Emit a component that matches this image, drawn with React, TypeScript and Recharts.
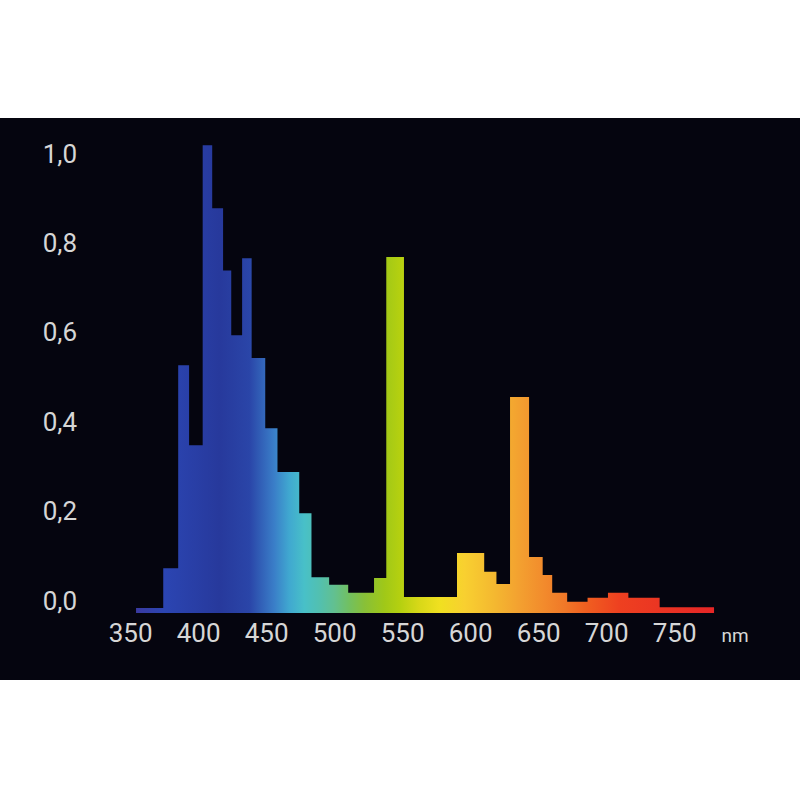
import { AreaChart, Area, XAxis, YAxis, Label } from "recharts";

// bin start wavelengths (nm); the last entry closes the final bin
const wavelengths = [
  354, 374, 385, 393, 403, 410, 418, 424, 432, 439, 449, 458, 474, 483, 496,
  510, 529, 538, 551, 590, 610, 619, 629, 643, 653, 660, 671, 686, 701, 716,
  739, 779,
];

// relative intensity of each bin
const intensity = [
  0.011, 0.1, 0.554, 0.375, 1.046, 0.905, 0.766, 0.621, 0.793, 0.57, 0.413,
  0.315, 0.223, 0.08, 0.063, 0.045, 0.078, 0.796, 0.036, 0.134, 0.092, 0.065,
  0.483, 0.125, 0.085, 0.045, 0.025, 0.034, 0.045, 0.034, 0.013, 0.013,
];

const xTicks = [350, 400, 450, 500, 550, 600, 650, 700, 750];
const yTicks = [0, 0.2, 0.4, 0.6, 0.8, 1.0];

const spectrum: [number, string][] = [
  [0, "#3a3aa0"],
  [0.049, "#2b45b2"],
  [0.144, "#27399c"],
  [0.196, "#2a45a8"],
  [0.239, "#3a7ec8"],
  [0.265, "#40a8d0"],
  [0.291, "#48c0c8"],
  [0.317, "#52c0b0"],
  [0.343, "#62c090"],
  [0.369, "#72c060"],
  [0.395, "#88c038"],
  [0.43, "#a0c818"],
  [0.456, "#b4d010"],
  [0.49, "#d8d818"],
  [0.525, "#f0e020"],
  [0.568, "#f8d030"],
  [0.62, "#f4b830"],
  [0.664, "#f3a030"],
  [0.707, "#f28a2c"],
  [0.742, "#f07828"],
  [0.776, "#f06020"],
  [0.837, "#ee4020"],
  [1, "#e62626"],
];

const data = wavelengths.map((nm, i) => ({ nm, value: intensity[i] }));

const labelColor = "#d6d6d6";
const font = "Roboto, 'Noto Sans', sans-serif";

function XTick({ x, y, payload }: any) {
  return (
    <text
      x={x}
      y={y}
      dy="0.71em"
      textAnchor="middle"
      fill={labelColor}
      fontSize={26}
      fontFamily={font}
    >
      {payload.value}
    </text>
  );
}

function YTick({ x, y, payload }: any) {
  return (
    <text
      x={x}
      y={y - 12.5}
      dy="0.36em"
      textAnchor="end"
      fill={labelColor}
      fontSize={26}
      fontFamily={font}
    >
      {payload.value.toFixed(1).replace(".", ",")}
    </text>
  );
}

export default function App() {
  return (
    <div
      style={{
        position: "absolute",
        left: 0,
        top: 0,
        width: 800,
        height: 800,
        background: "#ffffff",
      }}
    >
      <div
        style={{
          position: "absolute",
          left: 0,
          top: 118,
          width: 800,
          height: 562,
          background: "#05050f",
        }}
      >
        <AreaChart
          width={800}
          height={562}
          data={data}
          margin={{ top: 3, right: 71, bottom: 0, left: 0 }}
        >
          <defs>
            <linearGradient id="spec" x1="0" y1="0" x2="1" y2="0">
              {spectrum.map(([o, c]) => (
                <stop key={o} offset={o} stopColor={c} />
              ))}
            </linearGradient>
          </defs>
          <XAxis
            dataKey="nm"
            type="number"
            domain={[340, 790]}
            ticks={xTicks}
            axisLine={false}
            tickLine={false}
            tickSize={0}
            tickMargin={11}
            height={67}
            tick={<XTick />}
            interval={0}
          >
            <Label
              content={({ viewBox }: any) => (
                <text
                  x={viewBox.x + viewBox.width + 6}
                  y={viewBox.y + 22}
                  dy="0.36em"
                  textAnchor="middle"
                  fill={labelColor}
                  fontSize={19}
                  fontFamily={font}
                >
                  nm
                </text>
              )}
            />
          </XAxis>
          <YAxis
            type="number"
            domain={[0, 1.1]}
            ticks={yTicks}
            axisLine={false}
            tickLine={false}
            tickSize={0}
            tickMargin={40}
            width={117}
            tick={<YTick />}
            interval={0}
          />
          <Area
            type="stepAfter"
            dataKey="value"
            stroke="none"
            fill="url(#spec)"
            fillOpacity={1}
            isAnimationActive={false}
          />
        </AreaChart>
      </div>
    </div>
  );
}
